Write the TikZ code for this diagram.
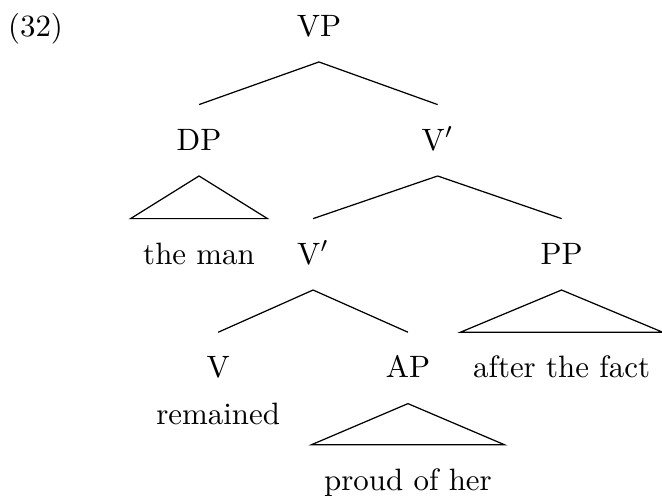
\documentclass[tikz,border=0pt]{standalone}
\begin{document}
\begin{tikzpicture}[-,x=1pt,y=1pt,cat node/.style={anchor=base,inner xsep=3.9pt,inner ysep=8.2pt,text height=6.3pt,text depth=0pt}]
                \useasboundingbox (0,0) rectangle (214.2,-160.5);
                \node[anchor=base west,inner sep=0pt] (num) at (2.4,-11.65) {(32)};
                \node[cat node] (vp) at (103.2,-11.65) {VP};
                \node[cat node] (dp) at (64.4,-48.54) {DP};
                \node[cat node] (vbar1) at (141.6,-48.54) {V$'$};
                \node[cat node] (man) at (64.4,-85.44) {the man};
                \node[cat node] (vbar2) at (101.3,-85.44) {V$'$};
                \node[cat node] (pp) at (181.7,-85.44) {PP};
                \node[cat node] (v) at (70.6,-122.2) {V};
                \node[cat node] (ap) at (132.0,-122.2) {AP};
                \node[cat node] (fact) at (181.7,-122.2) {after the fact};
                \node[cat node] (rem) at (70.6,-137.5) {remained};
                \node[cat node] (proud) at (132.0,-158.6) {proud of her};
    
                \path
                    (vp.south) edge (dp.north)
                    (vp.south) edge (vbar1.north)
                    (vbar1.south) edge (vbar2.north)
                    (vbar1.south) edge (pp.north)
                    (vbar2.south) edge (v.north)
                    (vbar2.south) edge (ap.north)
                    ;
                \draw (dp.south) -- (man.north west) -- (man.north east) -- cycle;
                \draw (pp.south) -- (fact.north west) -- (fact.north east) -- cycle;
                \draw (ap.south) -- (proud.north west) -- (proud.north east) -- cycle;
            \end{tikzpicture}
\end{document}
